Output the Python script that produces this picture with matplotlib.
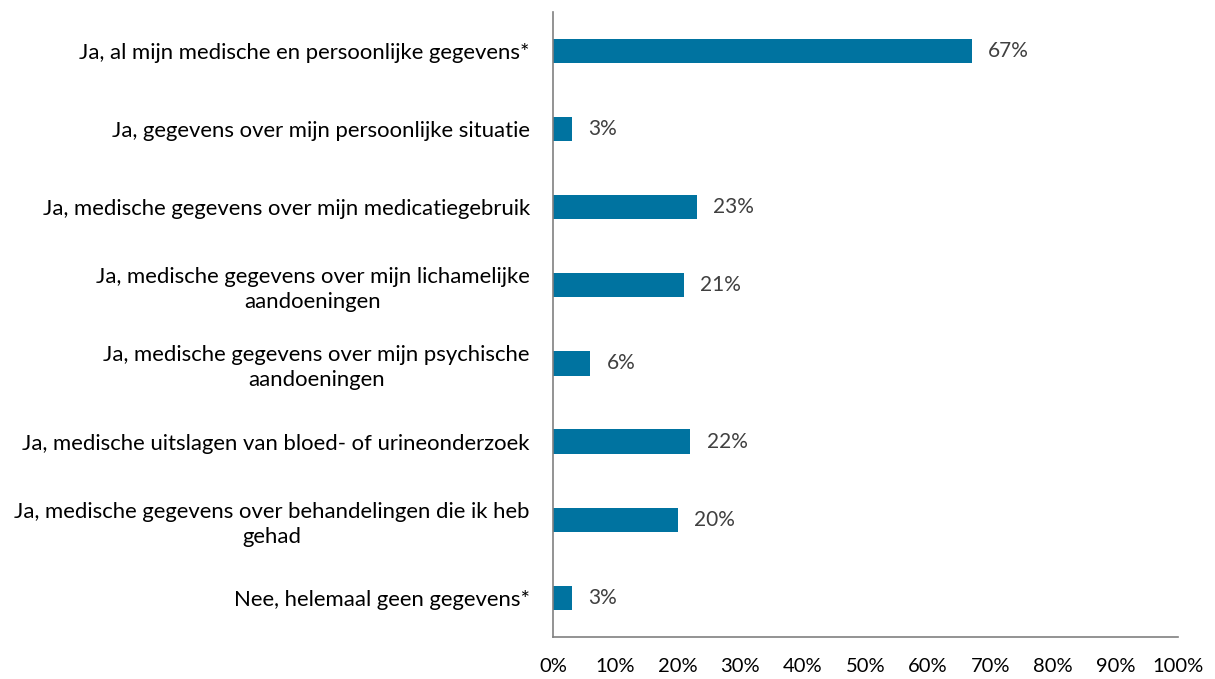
import matplotlib.pyplot as plt
from matplotlib.ticker import MultipleLocator, FuncFormatter

categories = [
    'Ja, al mijn medische en persoonlijke gegevens*',
    'Ja, gegevens over mijn persoonlijke situatie',
    'Ja, medische gegevens over mijn medicatiegebruik',
    'Ja, medische gegevens over mijn lichamelijke\naandoeningen',
    'Ja, medische gegevens over mijn psychische\naandoeningen',
    'Ja, medische uitslagen van bloed- of urineonderzoek',
    'Ja, medische gegevens over behandelingen die ik heb\ngehad',
    'Nee, helemaal geen gegevens*',
]
values = [67, 3, 23, 21, 6, 22, 20, 3]

plt.rcParams['font.family'] = ['Lato', 'DejaVu Sans']

fig = plt.figure(figsize=(12.15, 6.79), dpi=100)
ax = fig.add_axes([0.455, 0.062, 0.5145, 0.9205])

pos = list(range(len(categories)))
ax.barh(pos, values, height=0.31, color='#0073A0')

for p, v in zip(pos, values):
    ax.text(v + 2.6, p, f'{v}%', va='center', ha='left', fontsize=15, color='#404040')

ax.set_xlim(0, 100)
ax.set_ylim(len(categories) - 0.5, -0.5)
ax.xaxis.set_major_locator(MultipleLocator(10))
ax.xaxis.set_major_formatter(FuncFormatter(lambda x, _: f'{x:.0f}%'))

ax.set_yticks(pos)
ax.set_yticklabels(categories, multialignment='center', linespacing=1.3)
ax.tick_params(axis='y', length=0, pad=16.5, labelsize=15.9)
ax.tick_params(axis='x', length=0, pad=15, labelsize=14.5)

for side in ['top', 'right']:
    ax.spines[side].set_visible(False)
for side in ['left', 'bottom']:
    ax.spines[side].set_color('#808080')
    ax.spines[side].set_linewidth(1.2)

fig.savefig('out.png', dpi=100)
